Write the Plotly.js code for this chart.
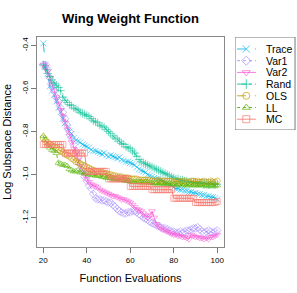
<!DOCTYPE html>
<html><head><meta charset="utf-8">
<script src="https://cdn.plot.ly/plotly-3.0.1.min.js"></script>
<style>html,body{margin:0;padding:0;background:#fff}#chart{width:297px;height:293px}</style>
</head><body><div id="chart"></div>
<script>
const evals = [20,21,22,23,24,25,26,27,28,29,30,31,32,33,34,35,36,37,38,39,40,41,42,43,44,45,46,47,48,49,50,51,52,53,54,55,56,57,58,59,60,61,62,63,64,65,66,67,68,69,70,71,72,73,74,75,76,77,78,79,80,81,82,83,84,85,86,87,88,89,90,91,92,93,94,95,96,97,98,99,100];

const traceVals = [-0.39,-0.49,-0.53,-0.59,-0.61,-0.63,-0.66,-0.69,-0.71,-0.74,-0.76,-0.78,-0.80,-0.81,-0.83,-0.84,-0.845,-0.85,-0.86,-0.865,-0.87,-0.875,-0.885,-0.89,-0.89,-0.895,-0.90,-0.905,-0.90,-0.91,-0.915,-0.91,-0.915,-0.92,-0.925,-0.92,-0.93,-0.935,-0.94,-0.94,-0.945,-0.95,-0.955,-0.965,-0.975,-0.98,-0.985,-0.99,-1.0,-1.005,-1.01,-1.015,-1.02,-1.02,-1.025,-1.03,-1.035,-1.04,-1.045,-1.05,-1.06,-1.065,-1.065,-1.07,-1.07,-1.075,-1.075,-1.08,-1.08,-1.085,-1.085,-1.09,-1.09,-1.095,-1.095,-1.10,-1.10,-1.105,-1.105,-1.11,-1.115];

const var1Vals = [-0.49,-0.49,-0.51,-0.55,-0.59,-0.61,-0.64,-0.66,-0.69,-0.71,-0.74,-0.77,-0.80,-0.83,-0.86,-0.89,-0.92,-0.95,-0.98,-1.01,-1.03,-1.05,-1.065,-1.09,-1.11,-1.115,-1.115,-1.12,-1.12,-1.125,-1.13,-1.13,-1.14,-1.15,-1.16,-1.17,-1.175,-1.18,-1.18,-1.175,-1.175,-1.17,-1.17,-1.175,-1.185,-1.19,-1.20,-1.205,-1.21,-1.22,-1.225,-1.23,-1.235,-1.24,-1.245,-1.25,-1.25,-1.255,-1.26,-1.265,-1.265,-1.27,-1.27,-1.265,-1.27,-1.265,-1.26,-1.26,-1.255,-1.25,-1.25,-1.245,-1.255,-1.265,-1.27,-1.265,-1.26,-1.265,-1.27,-1.265,-1.26];

const var2Vals = [-0.49,-0.50,-0.52,-0.55,-0.58,-0.61,-0.64,-0.67,-0.70,-0.73,-0.76,-0.79,-0.82,-0.85,-0.88,-0.90,-0.93,-0.96,-0.98,-1.00,-1.02,-1.035,-1.045,-1.05,-1.055,-1.06,-1.07,-1.075,-1.08,-1.085,-1.09,-1.095,-1.10,-1.10,-1.105,-1.11,-1.115,-1.115,-1.12,-1.125,-1.13,-1.14,-1.15,-1.16,-1.165,-1.17,-1.18,-1.19,-1.20,-1.19,-1.17,-1.20,-1.23,-1.24,-1.25,-1.255,-1.26,-1.265,-1.27,-1.275,-1.28,-1.28,-1.285,-1.285,-1.29,-1.29,-1.295,-1.30,-1.28,-1.285,-1.29,-1.29,-1.295,-1.295,-1.30,-1.295,-1.30,-1.29,-1.29,-1.285,-1.28];

const randVals = [-0.49,-0.51,-0.53,-0.545,-0.56,-0.575,-0.585,-0.595,-0.61,-0.64,-0.655,-0.665,-0.675,-0.68,-0.69,-0.695,-0.70,-0.71,-0.715,-0.72,-0.725,-0.73,-0.74,-0.75,-0.755,-0.76,-0.77,-0.775,-0.78,-0.79,-0.80,-0.81,-0.82,-0.83,-0.835,-0.845,-0.855,-0.86,-0.87,-0.875,-0.88,-0.89,-0.90,-0.915,-0.93,-0.94,-0.945,-0.95,-0.955,-0.96,-0.965,-0.97,-0.975,-0.98,-0.985,-0.99,-0.995,-1.0,-1.005,-1.01,-1.015,-1.02,-1.02,-1.025,-1.025,-1.03,-1.03,-1.035,-1.035,-1.035,-1.035,-1.04,-1.04,-1.035,-1.04,-1.04,-1.045,-1.04,-1.045,-1.045,-1.045];

const olsVals = [-0.83,-0.84,-0.85,-0.86,-0.865,-0.87,-0.875,-0.885,-0.89,-0.895,-0.905,-0.91,-0.915,-0.925,-0.93,-0.94,-0.945,-0.95,-0.955,-0.96,-0.965,-0.97,-0.975,-0.98,-0.985,-0.985,-0.99,-0.99,-0.995,-0.995,-1.0,-1.0,-1.005,-1.005,-1.01,-1.01,-1.01,-1.015,-1.015,-1.015,-1.02,-1.02,-1.02,-1.02,-1.025,-1.025,-1.025,-1.025,-1.025,-1.025,-1.03,-1.03,-1.03,-1.025,-1.03,-1.03,-1.03,-1.03,-1.03,-1.03,-1.035,-1.03,-1.03,-1.035,-1.03,-1.03,-1.035,-1.035,-1.03,-1.03,-1.035,-1.03,-1.035,-1.035,-1.03,-1.035,-1.035,-1.03,-1.035,-1.035,-1.03];

const llVals = [-0.82,-0.84,-0.86,-0.875,-0.885,-0.89,-0.90,-0.945,-0.95,-0.955,-0.955,-0.96,-0.975,-0.98,-0.985,-0.985,-0.98,-0.99,-0.99,-0.995,-0.995,-1.0,-1.0,-1.0,-1.005,-1.005,-1.005,-1.01,-1.01,-1.015,-1.015,-1.015,-1.02,-1.02,-1.02,-1.025,-1.025,-1.025,-1.03,-1.03,-1.03,-1.035,-1.035,-1.035,-1.035,-1.035,-1.04,-1.035,-1.035,-1.04,-1.04,-1.04,-1.04,-1.045,-1.04,-1.04,-1.045,-1.045,-1.04,-1.045,-1.045,-1.05,-1.045,-1.045,-1.05,-1.045,-1.05,-1.05,-1.045,-1.05,-1.05,-1.05,-1.045,-1.05,-1.05,-1.055,-1.05,-1.05,-1.055,-1.05,-1.05];

const mcVals = [-0.86,-0.86,-0.86,-0.86,-0.86,-0.86,-0.86,-0.86,-0.86,-0.86,-0.90,-0.90,-0.90,-0.90,-0.90,-0.90,-0.90,-0.90,-0.90,-0.90,-0.985,-0.985,-0.985,-0.985,-0.985,-0.985,-0.985,-0.985,-0.985,-0.985,-1.02,-1.02,-1.02,-1.02,-1.02,-1.02,-1.02,-1.02,-1.02,-1.02,-1.055,-1.055,-1.055,-1.055,-1.055,-1.055,-1.055,-1.055,-1.055,-1.055,-1.07,-1.07,-1.07,-1.07,-1.07,-1.07,-1.07,-1.07,-1.07,-1.07,-1.11,-1.11,-1.11,-1.11,-1.11,-1.11,-1.11,-1.11,-1.11,-1.11,-1.13,-1.13,-1.13,-1.13,-1.13,-1.13,-1.13,-1.13,-1.13,-1.13,-1.125];

const seriesNames = ["Trace","Var1","Var2","Rand","OLS","LL","MC"];
const seriesData = [traceVals,var1Vals,var2Vals,randVals,olsVals,llVals,mcVals];
const colors = ["#00B6EB","#A58AFF","#FB61D7","#00C094","#C49A00","#53B400","#F8766D"];
const dashes = ["dash","dot","solid","dashdot","dash","dot","solid"];
const symbols = ["x-thin-open","diamond-open","triangle-down-open","cross-thin-open","circle-open","triangle-up-open","square-open"];
const yTickVals = [-1.2,-1.0,-0.8,-0.6,-0.4];
const yTickText = ["-1.2","-1.0","-0.8","-0.6","-0.4"];
const xTickVals = [20,40,60,80,100];

function rgba(hex,a){const n=parseInt(hex.slice(1),16);return `rgba(${n>>16},${(n>>8)&255},${n&255},${a})`;}

// main plot area: 37..224 px horizontally inside a paper spanning 37..296
const paperW = 259, plotW = 187;
const data = seriesNames.map((nm,i)=>({
  type:'scatter', mode:'lines+markers', name:nm, x:evals, y:seriesData[i], xaxis:'x', yaxis:'y',
  line:{color:rgba(colors[i],0.9), width:1, dash:dashes[i]},
  marker:{symbol:symbols[i], size:6, color:rgba(colors[i],0.55), line:{color:rgba(colors[i],0.55), width:1}}
}));

// legend keys drawn on an auxiliary axis pair
const legTop = 37, legBot = 130;
const annotations = [];
seriesNames.forEach((nm,i)=>{
  const yy = 12 + i*11.7;
  data.push({type:'scatter', mode:'lines', x:[0.033,0.344], y:[yy,yy], xaxis:'x2', yaxis:'y2', showlegend:false, hoverinfo:'skip',
    line:{color:rgba(colors[i],0.85), width:1, dash:dashes[i]}});
  data.push({type:'scatter', mode:'markers', x:[0.185], y:[yy], xaxis:'x2', yaxis:'y2', showlegend:false, hoverinfo:'skip',
    marker:{symbol:symbols[i], size:7, color:rgba(colors[i],0.7), line:{color:rgba(colors[i],0.7), width:1}}});
  annotations.push({xref:'x2', yref:'y2', x:0.475, y:yy, text:nm, showarrow:false, xanchor:'left', yanchor:'middle',
    font:{size:10.5, color:'#000'}});
});

const layout = {
  width:297, height:293,
  margin:{l:37, r:1, t:37, b:46, autoexpand:false},
  paper_bgcolor:'#fff', plot_bgcolor:'#fff',
  font:{family:'Liberation Sans, Arial, sans-serif', color:'#000'},
  showlegend:false,
  title:{text:'<b>Wing Weight Function</b>', font:{size:13}, x:130.5/297, xref:'container', xanchor:'center', y:1-18/293, yref:'container', yanchor:'middle'},
  xaxis:{domain:[0, plotW/paperW], range:[17.1,103.1], tickvals:xTickVals, ticks:'outside', ticklen:5, tickcolor:'#777', showgrid:false, zeroline:false,
    showline:true, linecolor:'#888', mirror:true, linewidth:1, tickfont:{size:8},
    title:{text:'Function Evaluations', font:{size:11}, standoff:10}},
  yaxis:{range:[-1.3365,-0.3605], tickvals:yTickVals, ticktext:yTickText, tickangle:-90, ticks:'outside', ticklen:5, tickcolor:'#777',
    showgrid:false, zeroline:false, showline:true, linecolor:'#888', mirror:true, linewidth:1, tickfont:{size:8},
    title:{text:'Log Subspace Distance', font:{size:11}, standoff:6}},
  xaxis2:{domain:[(235-37)/paperW, 1], range:[0,1], visible:false, fixedrange:true},
  yaxis2:{domain:[1-(legBot-legTop)/210, 1], range:[legBot-legTop, 0], visible:false, fixedrange:true, anchor:'x2'},
  annotations:annotations,
  shapes:[{type:'rect', xref:'x2', yref:'y2', x0:0, x1:0.984, y0:0, y1:legBot-legTop, line:{color:'#777', width:1}, layer:'below'}]
};

Plotly.newPlot('chart', data, layout, {staticPlot:true, displayModeBar:false});
</script></body></html>
